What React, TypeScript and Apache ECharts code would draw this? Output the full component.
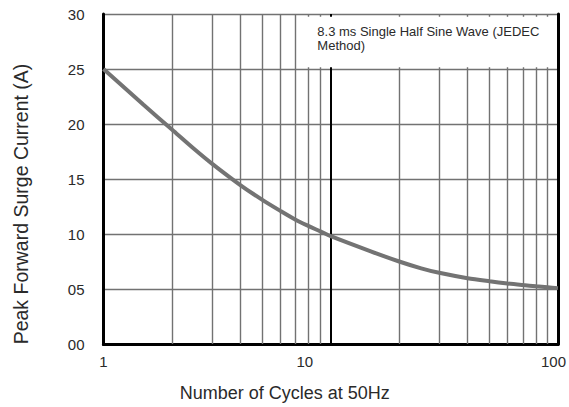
import React, { useEffect, useRef } from "react";
import * as echarts from "echarts";

const cycles = [1, 1.5, 2, 2.5, 3, 4, 5, 6, 7, 8, 9, 10, 15, 20, 25, 30, 40, 50, 60, 70, 80, 90, 100];
const surgeCurrent = [25, 21.75, 19.5, 17.75, 16.4, 14.45, 13.1, 12.1, 11.3, 10.72, 10.24, 9.8, 8.42, 7.5, 6.88, 6.47, 5.98, 5.7, 5.5, 5.36, 5.25, 5.16, 5.08];
const minorGridCycles = [2, 3, 4, 5, 6, 7, 8, 9, 20, 30, 40, 50, 60, 70, 80, 90];
const yTicks = ["00", "05", "10", "15", "20", "25", "30"];
const xTickLabels = ["1", "10", "100"];
const noteText = "8.3 ms Single Half Sine Wave (JEDEC\nMethod)";
const noteBox = { x0: 7.2, x1: 98, y0: 25.15, y1: 29.75 };

export default function App() {
  const ref = useRef<HTMLDivElement>(null);
  useEffect(() => {
    const chart = echarts.init(ref.current!, null, { renderer: "svg" });
    const gridColor = "#727272";
    const textColor = "#2a2a2a";
    const font = "Liberation Sans, Arial, sans-serif";
    chart.setOption({
      animation: false,
      backgroundColor: "#fff",
      grid: { left: 103.5, right: 9.5, top: 14, bottom: 63 },
      xAxis: [
        {
          type: "log",
          logBase: 10,
          min: 1,
          max: 100,
          axisLine: { show: true, lineStyle: { color: "#000", width: 3 } },
          axisTick: { show: false },
          axisLabel: {
            color: textColor,
            fontSize: 15,
            fontFamily: font,
            margin: 10,
            formatter: (v: number) => {
              const idx = Math.round(Math.log10(v));
              const t = xTickLabels[idx];
              if (idx === 1) return "{a|" + t + "}";
              if (idx === 2) return "{b|" + t + "}";
              return t;
            },
            rich: {
              a: { fontSize: 15, color: textColor, fontFamily: font, padding: [0, 52, 0, 0] },
              b: { fontSize: 15, color: textColor, fontFamily: font, padding: [0, 9, 0, 0] },
            },
          },
          splitLine: { show: true, lineStyle: { color: "#000", width: 2 } },
          name: "Number of Cycles at 50Hz",
          nameLocation: "middle",
          nameGap: 40,
          nameTextStyle: {
            color: textColor,
            fontSize: 18,
            fontFamily: font,
            padding: [0, 92, 0, 0],
          },
        },
        {
          type: "log",
          min: 1,
          max: 100,
          position: "top",
          axisLine: { show: true, lineStyle: { color: "#000", width: 3 } },
          axisTick: { show: false },
          axisLabel: { show: false },
          splitLine: { show: false },
        },
      ],
      yAxis: [
        {
          type: "value",
          min: 0,
          max: 30,
          interval: 5,
          axisLine: { show: true, lineStyle: { color: "#000", width: 3 } },
          axisTick: { show: false },
          axisLabel: {
            color: textColor,
            fontSize: 15,
            fontFamily: font,
            margin: 19,
            formatter: (v: number) => yTicks[Math.round(v / 5)],
          },
          splitLine: { show: true, lineStyle: { color: gridColor, width: 1.4 } },
          name: "Peak Forward Surge Current (A)",
          nameLocation: "middle",
          nameRotate: 90,
          nameGap: 73,
          nameTextStyle: {
            color: textColor,
            fontSize: 19.5,
            fontFamily: font,
            padding: [0, 50, 0, 0],
          },
        },
        {
          type: "value",
          min: 0,
          max: 30,
          position: "right",
          axisLine: { show: true, lineStyle: { color: "#000", width: 3 } },
          axisTick: { show: false },
          axisLabel: { show: false },
          splitLine: { show: false },
        },
      ],
      series: [
        {
          type: "line",
          xAxisIndex: 0,
          yAxisIndex: 0,
          z: 3,
          data: cycles.map((c, i) => [c, surgeCurrent[i]]),
          smooth: 0.3,
          showSymbol: false,
          lineStyle: { color: "#737373", width: 4 },
          markLine: {
            z: 1,
            silent: true,
            symbol: "none",
            label: { show: false },
            lineStyle: { color: gridColor, width: 1.4, type: "solid" },
            data: minorGridCycles.map((c) => ({ xAxis: c })),
          },
          markArea: {
            z: 2,
            silent: true,
            itemStyle: { color: "#fff" },
            label: {
              show: true,
              position: "insideTopLeft",
              distance: 0,
              offset: [19, 8],
              color: textColor,
              fontSize: 13,
              lineHeight: 13.5,
              fontFamily: font,
            },
            data: [
              [
                { name: noteText, coord: [noteBox.x0, noteBox.y1] },
                { coord: [noteBox.x1, noteBox.y0] },
              ],
            ],
          },
        },
      ],
    });
    return () => chart.dispose();
  }, []);
  return (
    <div
      ref={ref}
      style={{ position: "fixed", left: 0, top: 0, width: 569, height: 407 }}
    />
  );
}
